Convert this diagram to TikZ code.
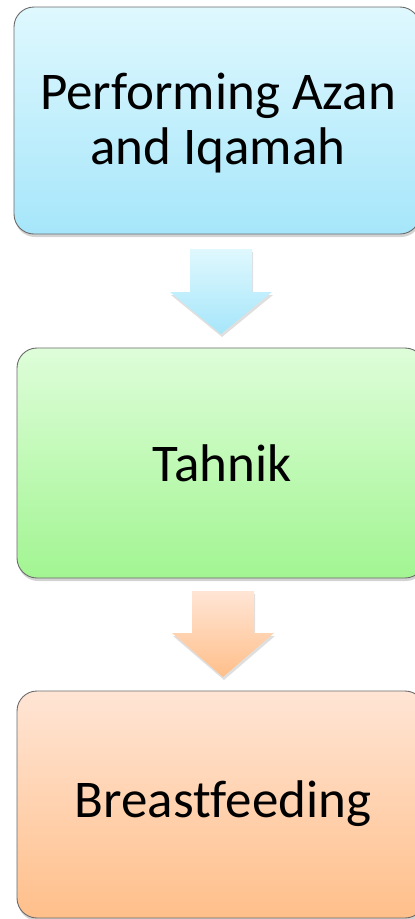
\documentclass[tikz,border=0pt]{standalone}
\usepackage{fontspec}
\setmainfont[Ligatures=NoCommon]{Carlito}
\usetikzlibrary{shadows,positioning}
\definecolor{bTop}{HTML}{DFF8FE}
\definecolor{bBot}{HTML}{A6E6FA}
\definecolor{gTop}{HTML}{DEFDD9}
\definecolor{gBot}{HTML}{A2F592}
\definecolor{oTop}{HTML}{FFE5D5}
\definecolor{oBot}{HTML}{FFBF8A}
\definecolor{edge}{HTML}{6A6A6A}
\begin{document}
\begin{tikzpicture}[x=1pt,y=-1pt,
  stepbox/.style={draw=edge, line width=0.9pt, rounded corners=20pt,
    drop shadow={opacity=0.35, shadow xshift=1pt, shadow yshift=-3pt}},
  boxtext/.style={font=\fontsize{53}{55}\selectfont, align=center, text=black},
  arrowshape/.style={drop shadow={opacity=0.25, shadow xshift=1pt, shadow yshift=-3pt}}]
\useasboundingbox (0,0) rectangle (415,919);
\begin{scope}
\clip (0,0) rectangle (415,919);
% boxes
\path[stepbox, top color=bTop, bottom color=bBot] (14,7) rectangle (420,234);
\path[stepbox, top color=gTop, bottom color=gBot] (17,348) rectangle (425,578);
\path[stepbox, top color=oTop, bottom color=oBot] (17,691) rectangle (425,918);
\end{scope}
\node[boxtext] (azan) at (218,123) {Performing Azan\\and Iqamah};
\node[boxtext] (tahnik) at (222,463) {Tahnik};
\node[boxtext] (breast) at (223,804) {Breastfeeding};
% arrows
\path[arrowshape, top color=bTop, bottom color=bBot]
  (190,249) -- (252,249) -- (252,292) -- (272,292) -- (221,334) -- (170,292) -- (190,292) -- cycle;
\path[arrowshape, top color=oTop, bottom color=oBot]
  (192,591) -- (254,591) -- (254,633) -- (274,633) -- (223,677) -- (172,633) -- (192,633) -- cycle;
\end{tikzpicture}
\end{document}
